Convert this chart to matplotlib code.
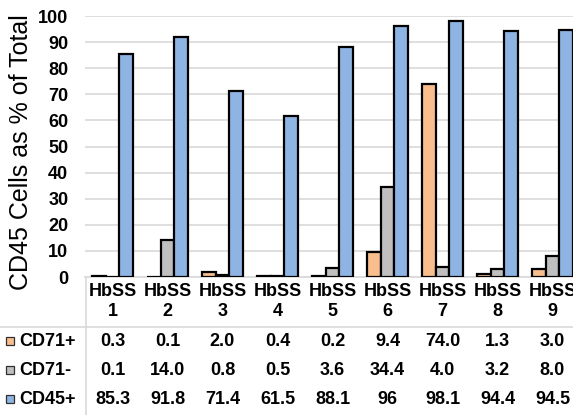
import matplotlib.pyplot as plt
import matplotlib.transforms as mtransforms
from matplotlib.patches import Rectangle
import numpy as np

plt.rcParams['font.family'] = ['Liberation Sans', 'DejaVu Sans']

samples = ["HbSS\n1", "HbSS\n2", "HbSS\n3", "HbSS\n4", "HbSS\n5",
           "HbSS\n6", "HbSS\n7", "HbSS\n8", "HbSS\n9"]
series_names = ["CD71+", "CD71-", "CD45+"]
cd71_pos = [0.3, 0.1, 2.0, 0.4, 0.2, 9.4, 74.0, 1.3, 3.0]
cd71_neg = [0.1, 14.0, 0.8, 0.5, 3.6, 34.4, 4.0, 3.2, 8.0]
cd45_pos = [85.3, 91.8, 71.4, 61.5, 88.1, 96, 98.1, 94.4, 94.5]
yticks = np.arange(0, 101, 10)

colors = ["#F8BE8E", "#BFBFBF", "#8EB4E3"]
grid_color = "#D9D9D9"
fs = 13

W, H = 573, 415
fig = plt.figure(figsize=(W / 100, H / 100), dpi=100)
# plot area in pixel coords: left 85, right 580 (runs past the edge), top 16, bottom 277
ax = fig.add_axes([85 / W, 1 - 277 / H, (580 - 85) / W, (277 - 16) / H])

x = np.arange(len(samples))
bw = 0.245
for i, (vals, c) in enumerate(zip([cd71_pos, cd71_neg, cd45_pos], colors)):
    ax.bar(x + (i - 1) * bw, vals, bw, color=c, edgecolor="black",
           linewidth=1.6, zorder=3)

ax.set_xlim(-0.5, len(samples) - 0.5)
ax.set_ylim(0, 100)
ax.set_yticks(yticks)
ax.set_yticklabels([str(t) for t in yticks], fontsize=fs, fontweight="bold")
ax.yaxis.grid(True, color=grid_color, linewidth=1.2, zorder=0)
ax.set_xticks([])
for s in ["top", "right", "left"]:
    ax.spines[s].set_visible(False)
ax.spines["bottom"].set_color(grid_color)
ax.spines["bottom"].set_linewidth(1.2)
ax.tick_params(axis="y", length=0, pad=12)

fig.text(21 / W, 1 - 152 / H, "CD45 Cells as % of Total", rotation=90,
         ha="center", va="center", fontsize=18)

# data table under the plot
trans = mtransforms.blended_transform_factory(ax.transData, fig.transFigure)
for xi, lab in zip(x, samples):
    top, bottom = lab.split("\n")
    ax.text(xi, 1 - 291 / H, top, transform=trans, ha="center", va="center",
            fontsize=fs, fontweight="bold", clip_on=False)
    ax.text(xi, 1 - 311 / H, bottom, transform=trans, ha="center", va="center",
            fontsize=fs, fontweight="bold", clip_on=False)

row_y = [341, 370, 399]
row_vals = [[f"{v:.1f}" for v in cd71_pos],
            [f"{v:.1f}" for v in cd71_neg],
            [f"{v:g}" for v in cd45_pos]]
for ry, name, c, vals in zip(row_y, series_names, colors, row_vals):
    yf = 1 - ry / H
    for xi, v in zip(x, vals):
        ax.text(xi, yf, v, transform=trans, ha="center", va="center",
                fontsize=fs, fontweight="bold", clip_on=False)
    fig.patches.append(Rectangle((6 / W, yf - 4 / H), 8 / W, 8 / H,
                                 facecolor=c, edgecolor="#303030", linewidth=0.9,
                                 transform=fig.transFigure))
    ax.text(19 / W, yf, name, transform=fig.transFigure, ha="left",
            va="center", fontsize=fs, fontweight="bold", clip_on=False)

fig.add_artist(plt.Line2D([0, 1], [1 - 327 / H, 1 - 327 / H], color=grid_color,
                          linewidth=1.2, transform=fig.transFigure))
fig.add_artist(plt.Line2D([86 / W, 86 / W], [0, 1 - 277 / H], color=grid_color,
                          linewidth=1.2, transform=fig.transFigure))

fig.savefig("out.png", dpi=100)
